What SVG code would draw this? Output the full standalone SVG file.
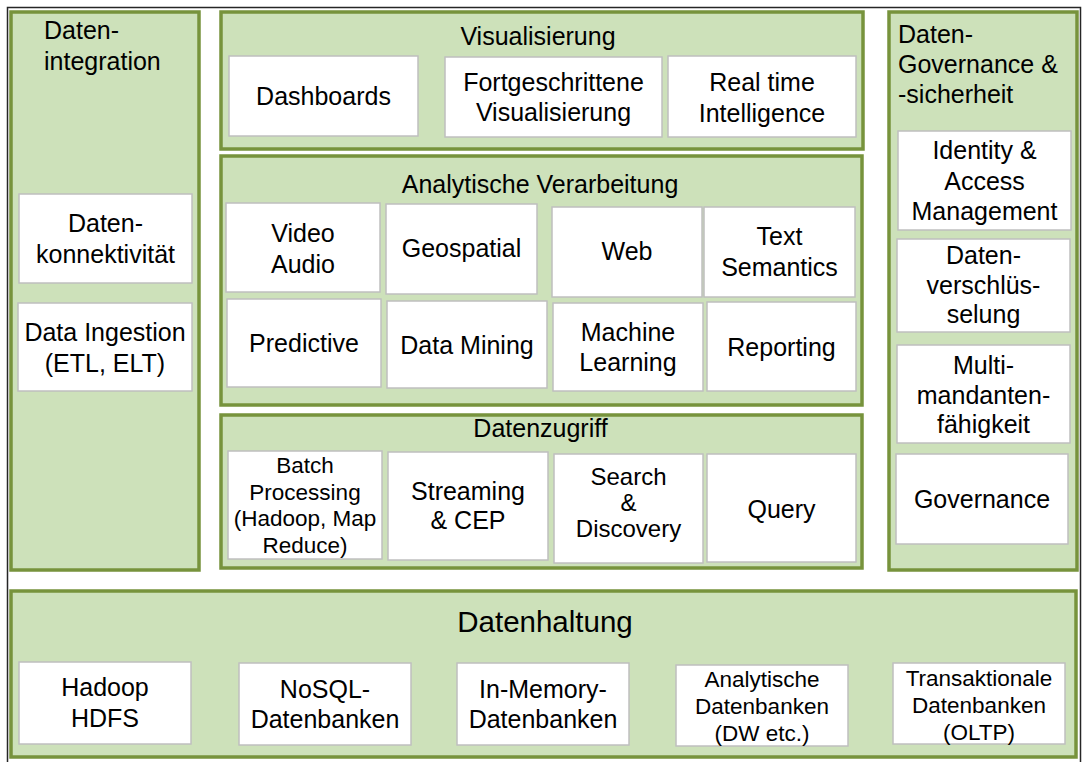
<svg xmlns="http://www.w3.org/2000/svg" width="1086" height="762" viewBox="0 0 1086 762">
<style>
.bg{fill:#ffffff}
.frame{fill:none;stroke:#262626;stroke-width:1.5}
.panel{fill:#CDE1BA;stroke:#77933C;stroke-width:3.5}
.box{fill:#ffffff;stroke:#BFBFBF;stroke-width:1.5}
text{font-family:"Liberation Sans",Arial,sans-serif;fill:#000000}
.t{font-size:25px;text-anchor:middle}
.tl{font-size:25px}
.s{font-size:22.5px;text-anchor:middle}
.m{font-size:24px;text-anchor:middle}
.big{font-size:29.5px;text-anchor:middle}
</style>
<rect class="bg" x="0" y="0" width="1086" height="762"/>
<path class="frame" d="M7.5 770 V7.5 H1080.5 V770"/>

<g id="panel-datenintegration">
<rect class="panel" x="11" y="12" width="188" height="558"/>
<text class="tl" x="44" y="39">Daten-</text>
<text class="tl" x="44" y="70">integration</text>
</g>
<g id="panel-visualisierung">
<rect class="panel" x="221" y="12" width="642" height="137"/>
<text class="t" x="538" y="45">Visualisierung</text>
</g>
<g id="panel-analytische-verarbeitung">
<rect class="panel" x="221" y="156" width="641" height="249"/>
<text class="t" x="540" y="193">Analytische Verarbeitung</text>
</g>
<g id="panel-datenzugriff">
<rect class="panel" x="221" y="415" width="641" height="153"/>
<text class="t" x="540.5" y="437">Datenzugriff</text>
</g>
<g id="panel-governance">
<rect class="panel" x="889" y="12" width="188" height="558"/>
<text class="tl" x="898" y="43">Daten-</text>
<text class="tl" x="898" y="73">Governance &amp;</text>
<text class="tl" x="898" y="103">-sicherheit</text>
</g>
<g id="panel-datenhaltung">
<rect class="panel" x="11" y="591" width="1065" height="166"/>
<text class="big" x="545" y="632">Datenhaltung</text>
</g>

<g id="dashboards"><rect class="box" x="229" y="56" width="189" height="80"/><text class="t" x="323.5" y="105">Dashboards</text></g>
<g id="fortgeschrittene-visualisierung"><rect class="box" x="445" y="57" width="217" height="80"/><text class="t" x="553.5" y="91">Fortgeschrittene</text><text class="t" x="553.5" y="121">Visualisierung</text></g>
<g id="real-time-intelligence"><rect class="box" x="668" y="56" width="188" height="81"/><text class="t" x="762" y="91">Real time</text><text class="t" x="762" y="121.5">Intelligence</text></g>

<g id="datenkonnektivitaet"><rect class="box" x="19" y="194" width="173" height="89"/><text class="t" x="105.5" y="232">Daten-</text><text class="t" x="105.5" y="263">konnektivität</text></g>
<g id="data-ingestion"><rect class="box" x="18" y="303" width="174" height="88"/><text class="t" x="105" y="341">Data Ingestion</text><text class="t" x="105" y="372">(ETL, ELT)</text></g>

<g id="video-audio"><rect class="box" x="226" y="203" width="154" height="89"/><text class="t" x="303" y="242">Video</text><text class="t" x="303" y="273">Audio</text></g>
<g id="geospatial"><rect class="box" x="386" y="204" width="151" height="90"/><text class="t" x="461.5" y="257">Geospatial</text></g>
<g id="web"><rect class="box" x="552" y="207" width="150" height="90"/><text class="t" x="627" y="260">Web</text></g>
<g id="text-semantics"><rect class="box" x="704" y="207" width="151" height="90"/><text class="t" x="779.5" y="245">Text</text><text class="t" x="779.5" y="276">Semantics</text></g>
<g id="predictive"><rect class="box" x="227" y="299" width="154" height="88"/><text class="t" x="304" y="352">Predictive</text></g>
<g id="data-mining"><rect class="box" x="387" y="301" width="160" height="87"/><text class="t" x="467" y="354">Data Mining</text></g>
<g id="machine-learning"><rect class="box" x="553" y="303" width="150" height="88"/><text class="t" x="628" y="341">Machine</text><text class="t" x="628" y="371">Learning</text></g>
<g id="reporting"><rect class="box" x="707" y="302" width="149" height="89"/><text class="t" x="781.5" y="356">Reporting</text></g>

<g id="batch-processing"><rect class="box" x="228" y="451" width="154" height="108"/><text class="s" x="305" y="473">Batch</text><text class="s" x="305" y="499.5">Processing</text><text class="s" x="305" y="526">(Hadoop, Map</text><text class="s" x="305" y="552.5">Reduce)</text></g>
<g id="streaming-cep"><rect class="box" x="388" y="452" width="160" height="108"/><text class="t" x="468" y="500">Streaming</text><text class="t" x="468" y="529">&amp; CEP</text></g>
<g id="search-discovery"><rect class="box" x="554" y="454" width="149" height="109"/><text class="m" x="628.5" y="485">Search</text><text class="m" x="628.5" y="511">&amp;</text><text class="m" x="628.5" y="537">Discovery</text></g>
<g id="query"><rect class="box" x="707" y="454" width="149" height="108"/><text class="t" x="781.5" y="518">Query</text></g>

<g id="identity-access-management"><rect class="box" x="898" y="131" width="173" height="99"/><text class="t" x="984.5" y="159">Identity &amp;</text><text class="t" x="984.5" y="190">Access</text><text class="t" x="984.5" y="220">Management</text></g>
<g id="datenverschluesselung"><rect class="box" x="897" y="239" width="173" height="93"/><text class="t" x="983.5" y="264">Daten-</text><text class="t" x="983.5" y="294">verschlüs-</text><text class="t" x="983.5" y="323">selung</text></g>
<g id="multimandantenfaehigkeit"><rect class="box" x="897" y="345" width="173" height="98"/><text class="t" x="983.5" y="374">Multi-</text><text class="t" x="983.5" y="404">mandanten-</text><text class="t" x="983.5" y="433">fähigkeit</text></g>
<g id="governance"><rect class="box" x="896" y="454" width="172" height="90"/><text class="t" x="982" y="508">Governance</text></g>

<g id="hadoop-hdfs"><rect class="box" x="19" y="662" width="172" height="82"/><text class="t" x="105" y="696">Hadoop</text><text class="t" x="105" y="727">HDFS</text></g>
<g id="nosql-datenbanken"><rect class="box" x="239" y="663" width="172" height="82"/><text class="t" x="325" y="698">NoSQL-</text><text class="t" x="325" y="728">Datenbanken</text></g>
<g id="in-memory-datenbanken"><rect class="box" x="457" y="663" width="172" height="82"/><text class="t" x="543" y="698">In-Memory-</text><text class="t" x="543" y="728">Datenbanken</text></g>
<g id="analytische-datenbanken"><rect class="box" x="676" y="665" width="172" height="81"/><text class="s" x="762" y="687">Analytische</text><text class="s" x="762" y="714">Datenbanken</text><text class="s" x="762" y="741">(DW etc.)</text></g>
<g id="transaktionale-datenbanken"><rect class="box" x="893" y="663" width="172" height="81"/><text class="s" x="979" y="686">Transaktionale</text><text class="s" x="979" y="713">Datenbanken</text><text class="s" x="979" y="740">(OLTP)</text></g>

<g id="connectors"></g>
</svg>
